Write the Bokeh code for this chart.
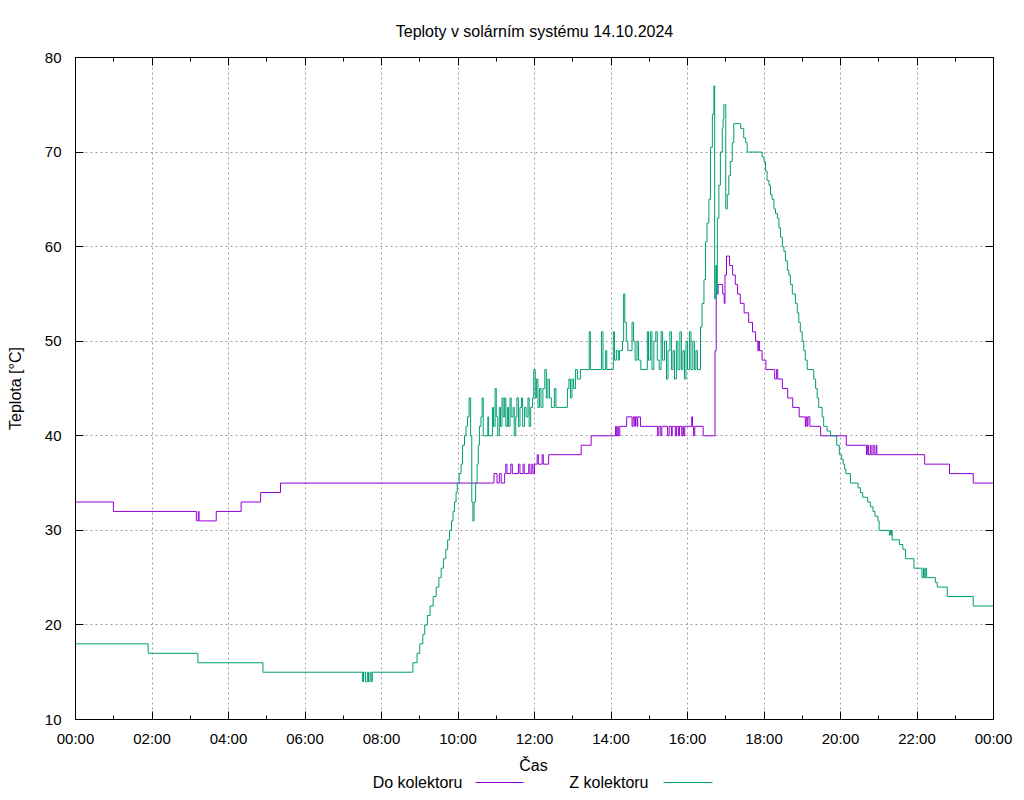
from bokeh.plotting import figure
from bokeh.models import Range1d, FixedTicker, LinearAxis, Grid
from bokeh.layouts import column
from bokeh.embed import file_html
from bokeh.resources import INLINE
from bokeh.core.properties import value

# ---------------- data (time in hours, temperature in °C) ----------------
title_text = "Teploty v solárním systému 14.10.2024"
x_label = "Čas"
y_label = "Teplota [°C]"
series_names = ["Do kolektoru", "Z kolektoru"]
x_ticks = [0, 2, 4, 6, 8, 10, 12, 14, 16, 18, 20, 22, 24]
x_tick_labels = ["00:00", "02:00", "04:00", "06:00", "08:00", "10:00", "12:00",
                 "14:00", "16:00", "18:00", "20:00", "22:00", "00:00"]
y_ticks = [10, 20, 30, 40, 50, 60, 70, 80]

do_t = [0, 0.99, 3.16, 3.21, 3.23, 3.68, 4.33, 4.84, 5.36,
        10.94, 11.02, 11.08, 11.13, 11.22, 11.25, 11.28, 11.38, 11.42, 11.58,
        11.62, 11.7, 11.73, 11.85, 11.88, 11.93, 11.96, 12.0, 12.07, 12.1,
        12.2, 12.23, 12.37, 13.22, 13.48, 14.12, 14.14, 14.18, 14.19, 14.23,
        14.41, 14.55, 14.58, 14.62, 14.64, 14.68, 14.7, 14.77, 15.22, 15.25,
        15.3, 15.33, 15.48, 15.52, 15.58, 15.6, 15.68, 15.71, 15.76, 15.79,
        15.85, 15.88, 15.9, 15.93, 16.11, 16.13, 16.16, 16.19, 16.41, 16.72,
        16.75, 16.8, 16.92, 16.96, 16.98, 17.02, 17.1, 17.18, 17.25, 17.31,
        17.38, 17.48, 17.6, 17.7, 17.78, 17.84, 17.86, 17.88, 17.95, 18.05,
        18.28, 18.33, 18.36, 18.48, 18.62, 18.75, 18.92, 19.08, 19.1, 19.13,
        19.15, 19.2, 19.48, 20.15, 20.68, 20.7, 20.73, 20.78, 20.8, 20.85,
        20.88, 20.93, 20.95, 22.2, 22.85, 23.47, 24.0]
do_v = [33, 32, 31, 32, 31, 32, 33, 34, 35,
        36, 35, 36, 35, 36, 37, 36, 37, 36, 37,
        36, 37, 36, 37, 36, 37, 36, 37, 38, 37,
        38, 37, 38, 39, 40, 41, 40, 41, 40, 41,
        42, 41, 42, 41, 42, 41, 42, 41, 40, 41,
        40, 41, 40, 41, 40, 41, 40, 41, 40, 41,
        40, 41, 40, 41, 42, 41, 40, 41, 40, 49,
        55, 56, 55, 54, 57, 59, 58, 57, 56, 55,
        54, 53, 52, 51, 50, 49, 50, 49, 48, 47,
        46, 47, 46, 45, 44, 43, 42, 41, 42, 41,
        42, 41, 40, 39, 38, 39, 38, 39, 38, 39,
        38, 39, 38, 37, 36, 35, 35]

z_t = [0, 1.9, 3.2, 4.9, 7.5, 7.53, 7.58, 7.63, 7.66, 7.7, 7.73, 7.76,
       8.82, 8.93, 9.0, 9.08, 9.13, 9.2, 9.27, 9.35, 9.43, 9.5, 9.56, 9.62,
       9.68, 9.73, 9.78, 9.83, 9.87, 9.91, 9.95, 9.98, 10.03, 10.08, 10.12,
       10.17, 10.21, 10.25, 10.29, 10.33, 10.36, 10.39, 10.42, 10.46, 10.5,
       10.53, 10.56, 10.6, 10.63, 10.66, 10.78, 10.8, 10.9, 10.93, 10.97,
       11.0, 11.04, 11.08, 11.11, 11.15, 11.18, 11.22, 11.25, 11.29, 11.32,
       11.36, 11.39, 11.44, 11.47, 11.51, 11.54, 11.58, 11.62, 11.66, 11.69,
       11.74, 11.78, 11.83, 11.86, 11.9, 11.95, 11.98, 12.02, 12.05, 12.09,
       12.13, 12.17, 12.22, 12.27, 12.31, 12.35, 12.39, 12.44, 12.52, 12.56,
       12.86, 12.9, 12.94, 12.98, 13.02, 13.07, 13.12, 13.2, 13.43, 13.46,
       13.75, 13.79, 13.86, 13.89, 14.06, 14.09, 14.14, 14.19, 14.22, 14.3,
       14.33, 14.36, 14.4, 14.44, 14.55, 14.59, 14.63, 14.68, 14.72, 14.78,
       14.95, 14.98, 15.03, 15.07, 15.12, 15.17, 15.21, 15.26, 15.31, 15.35,
       15.4, 15.45, 15.49, 15.54, 15.58, 15.62, 15.66, 15.71, 15.75, 15.8,
       15.84, 15.88, 15.92, 15.96, 16.0, 16.05, 16.09, 16.14, 16.18, 16.22,
       16.26, 16.34, 16.38, 16.43, 16.47, 16.51, 16.56, 16.6, 16.65, 16.69,
       16.71, 16.74, 16.76, 16.78, 16.82, 16.86, 16.91, 16.93, 16.95, 17.0,
       17.04, 17.08, 17.12, 17.17, 17.21, 17.39, 17.47, 17.52, 17.56, 17.95,
       18.0, 18.04, 18.08, 18.13, 18.17, 18.21, 18.26, 18.3, 18.35, 18.39,
       18.43, 18.48, 18.52, 18.56, 18.61, 18.65, 18.69, 18.74, 18.82, 18.87,
       18.91, 18.95, 19.0, 19.04, 19.08, 19.13, 19.3, 19.35, 19.39, 19.43,
       19.52, 19.56, 19.65, 19.74, 19.9, 19.97, 20.03, 20.07, 20.11, 20.14,
       20.26, 20.46, 20.52, 20.58, 20.71, 20.78, 20.85, 20.9, 20.98, 21.01,
       21.28, 21.3, 21.32, 21.34, 21.35, 21.54, 21.63, 21.7, 21.92, 22.13,
       22.17, 22.19, 22.23, 22.25, 22.48, 22.53, 22.79, 23.47, 24.0]
z_v = [18, 17, 16, 15, 14, 15, 14, 15, 14, 15, 14, 15,
       16, 17, 18, 19, 20, 21, 22, 23, 24, 25, 26, 27,
       28, 29, 30, 31, 32, 33, 34, 35, 36, 37, 39,
       40, 41, 42, 44, 40, 33, 31, 33, 35, 37,
       39, 41, 42, 44, 40, 42, 40, 43, 41, 45,
       42, 40, 43, 41, 44, 42, 44, 41, 43, 41,
       44, 42, 43, 40, 42, 44, 41, 43, 44, 41,
       43, 42, 44, 41, 43, 44, 47, 44, 46, 43,
       45, 43, 45, 47, 44, 46, 44, 43, 45, 43,
       45, 46, 44, 46, 45, 47, 46, 47, 51, 47,
       51, 47, 49, 47, 51, 48, 49, 48, 49, 50,
       55, 52, 50, 49, 52, 50, 48, 50, 48, 47,
       51, 48, 51, 47, 50, 51, 48, 47, 51, 48,
       50, 46, 49, 51, 47, 49, 46, 50, 47, 51,
       47, 49, 46, 50, 47, 51, 47, 50, 47, 49,
       47, 51.5, 54, 56.5, 60.5, 62.5, 65, 70.5, 74, 77,
       54.5, 58, 55, 63, 66.5, 70, 72.5, 73.5, 75, 64,
       65.5, 67.5, 69, 71, 73, 72.5, 71.5, 71, 70, 69.5,
       69, 68, 67, 66.5, 65.5, 65, 64, 63.5, 63, 62,
       61, 60, 59.5, 58.5, 57.5, 57, 56, 55, 54, 53,
       52, 51, 50, 49, 48, 47, 46, 45, 44, 43,
       42, 41, 40.5, 40, 39, 38, 37.5, 37, 36.5, 36,
       35, 34.5, 34, 33.5, 33, 32.5, 32, 31.5, 31, 30,
       29.5, 30, 29.5, 30, 29, 28.5, 28, 27, 26, 25,
       26, 25, 26, 25, 24.5, 24, 23, 22, 22]

# ---------------- styling ----------------
FONT = "Liberation Sans"
C_DO = "#9400D3"
C_Z = "#009E73"
TXT = "16px"

p = figure(width=1024, height=751, output_backend="svg", toolbar_location=None,
           x_range=Range1d(0, 24), y_range=Range1d(10, 80),
           min_border_left=75, min_border_right=31, min_border_top=57,
           min_border_bottom=32, x_axis_type=None, y_axis_type=None,
           title=title_text)
p.background_fill_color = "white"
p.border_fill_color = "white"
p.outline_line_color = "black"
p.outline_line_width = 1
p.title.align = "center"
p.title.text_font = FONT
p.title.text_font_size = TXT
p.title.text_font_style = "normal"
p.title.text_color = "black"
p.title.standoff = 35

xt = FixedTicker(ticks=x_ticks, minor_ticks=list(range(0, 25)))
yt = FixedTicker(ticks=y_ticks, minor_ticks=[])


def style_axis(ax, show_labels):
    ax.axis_line_color = "black"
    ax.major_tick_in = 8
    ax.major_tick_out = 0
    ax.minor_tick_in = 4
    ax.minor_tick_out = 0
    ax.major_tick_line_color = "black"
    ax.minor_tick_line_color = "black"
    ax.major_label_text_font = FONT
    ax.major_label_text_font_size = "15px"
    ax.major_label_text_color = "black"
    ax.axis_label_text_font = FONT
    ax.axis_label_text_font_size = TXT
    ax.axis_label_text_font_style = "normal"
    ax.axis_label_text_color = "black"
    if not show_labels:
        ax.major_label_text_font_size = "0px"
        ax.major_label_text_color = None
        ax.major_label_standoff = 0


xb = LinearAxis(ticker=xt)
xb.major_label_overrides = {t: lab for t, lab in zip(x_ticks, x_tick_labels)}
style_axis(xb, True)
xb.major_label_standoff = 10
p.add_layout(xb, "below")

xa = LinearAxis(ticker=xt)
style_axis(xa, False)
xa.major_label_overrides = {t: "" for t in x_ticks}
p.add_layout(xa, "above")

yl = LinearAxis(ticker=yt, axis_label=y_label)
style_axis(yl, True)
yl.minor_tick_line_color = None
yl.major_label_standoff = 14
yl.axis_label_standoff = 18
p.add_layout(yl, "left")

yr = LinearAxis(ticker=yt)
style_axis(yr, False)
yr.minor_tick_line_color = None
yr.major_label_overrides = {t: "" for t in y_ticks}
p.add_layout(yr, "right")

for dim, tk in ((0, xt), (1, yt)):
    g = Grid(dimension=dim, ticker=tk, grid_line_color="#a0a0a0",
             grid_line_dash="2 3", grid_line_width=1)
    p.add_layout(g, "center")

p.step(do_t, do_v, mode="after", line_color=C_DO, line_width=1)
p.step(z_t, z_v, mode="after", line_color=C_Z, line_width=1)

# ------- bottom strip: x-axis title and gnuplot-style key (text, then sample) -------
# its coordinates are page pixels (x: 75..993 frame, y: 751..800)
lg = figure(width=1024, height=49, output_backend="svg", toolbar_location=None,
            x_range=Range1d(75, 993), y_range=Range1d(800, 751),
            min_border_left=75, min_border_right=31, min_border_top=0,
            min_border_bottom=0, x_axis_type=None, y_axis_type=None)
lg.outline_line_color = None
lg.background_fill_color = "white"
lg.border_fill_color = "white"
lg.xgrid.visible = False
lg.ygrid.visible = False
lg.text(x=[533], y=[765], text=[x_label], text_align="center",
        text_baseline="middle", text_font=value(FONT), text_font_size=TXT,
        text_color="black")
lg.text(x=[462, 648], y=[782, 782], text=series_names, text_align="right",
        text_baseline="middle", text_font=value(FONT), text_font_size=TXT,
        text_color="black")
lg.segment(x0=[475, 663], y0=[782, 782], x1=[523, 712], y1=[782, 782],
           line_color=[C_DO, C_Z], line_width=1)

layout = column(p, lg, spacing=0)
open("out.html", "w").write(file_html(layout, INLINE))
